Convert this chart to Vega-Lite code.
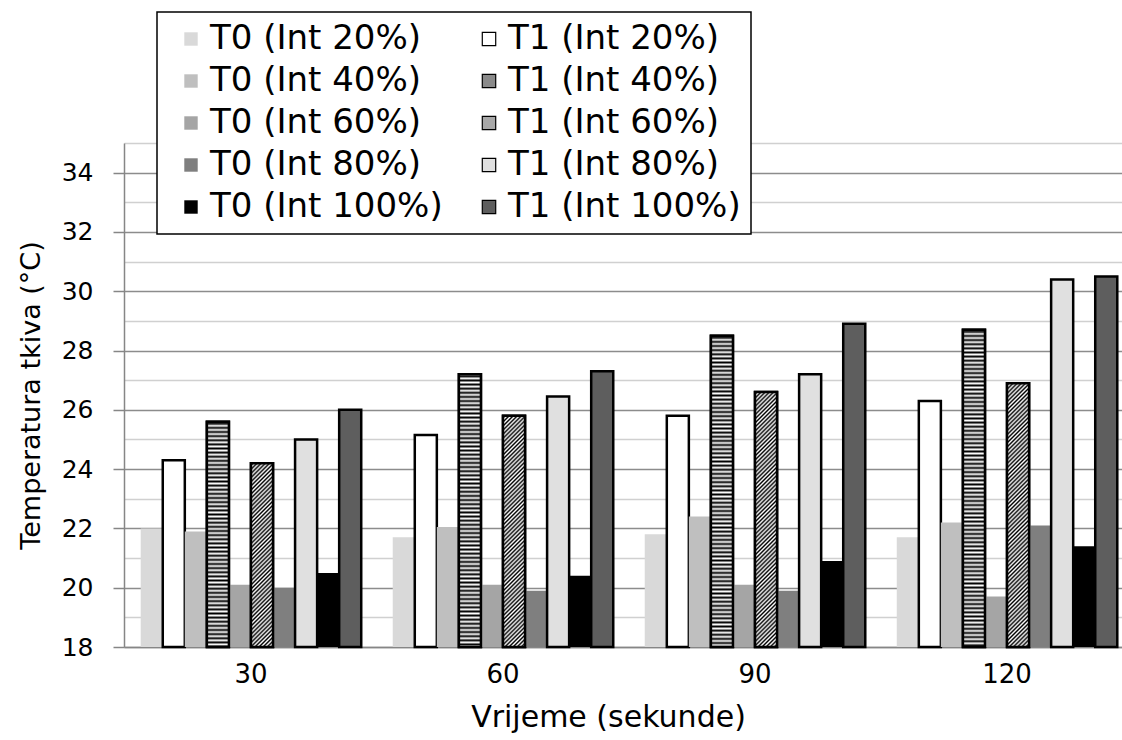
{
  "$schema": "https://vega.github.io/schema/vega-lite/v6.json",
  "autosize": {"type": "none"},
  "width": 998,
  "height": 504,
  "padding": {"left": 124, "top": 143, "right": 0, "bottom": 93},
  "background": "white",
  "config": {"view": {"stroke": null}, "font": "DejaVu Sans"},
  "params": [
    {"name": "stp", "value": [
      {"offset":0,"color":"#fff"},{"offset":0.00625,"color":"#000"},{"offset":0.0125,"color":"#fff"},{"offset":0.01875,"color":"#000"},{"offset":0.025,"color":"#fff"},{"offset":0.03125,"color":"#000"},{"offset":0.0375,"color":"#fff"},{"offset":0.04375,"color":"#000"},{"offset":0.05,"color":"#fff"},{"offset":0.05625,"color":"#000"},{"offset":0.0625,"color":"#fff"},{"offset":0.06875,"color":"#000"},{"offset":0.075,"color":"#fff"},{"offset":0.08125,"color":"#000"},{"offset":0.0875,"color":"#fff"},{"offset":0.09375,"color":"#000"},
      {"offset":0.1,"color":"#fff"},{"offset":0.10625,"color":"#000"},{"offset":0.1125,"color":"#fff"},{"offset":0.11875,"color":"#000"},{"offset":0.125,"color":"#fff"},{"offset":0.13125,"color":"#000"},{"offset":0.1375,"color":"#fff"},{"offset":0.14375,"color":"#000"},{"offset":0.15,"color":"#fff"},{"offset":0.15625,"color":"#000"},{"offset":0.1625,"color":"#fff"},{"offset":0.16875,"color":"#000"},{"offset":0.175,"color":"#fff"},{"offset":0.18125,"color":"#000"},{"offset":0.1875,"color":"#fff"},{"offset":0.19375,"color":"#000"},
      {"offset":0.2,"color":"#fff"},{"offset":0.20625,"color":"#000"},{"offset":0.2125,"color":"#fff"},{"offset":0.21875,"color":"#000"},{"offset":0.225,"color":"#fff"},{"offset":0.23125,"color":"#000"},{"offset":0.2375,"color":"#fff"},{"offset":0.24375,"color":"#000"},{"offset":0.25,"color":"#fff"},{"offset":0.25625,"color":"#000"},{"offset":0.2625,"color":"#fff"},{"offset":0.26875,"color":"#000"},{"offset":0.275,"color":"#fff"},{"offset":0.28125,"color":"#000"},{"offset":0.2875,"color":"#fff"},{"offset":0.29375,"color":"#000"},
      {"offset":0.3,"color":"#fff"},{"offset":0.30625,"color":"#000"},{"offset":0.3125,"color":"#fff"},{"offset":0.31875,"color":"#000"},{"offset":0.325,"color":"#fff"},{"offset":0.33125,"color":"#000"},{"offset":0.3375,"color":"#fff"},{"offset":0.34375,"color":"#000"},{"offset":0.35,"color":"#fff"},{"offset":0.35625,"color":"#000"},{"offset":0.3625,"color":"#fff"},{"offset":0.36875,"color":"#000"},{"offset":0.375,"color":"#fff"},{"offset":0.38125,"color":"#000"},{"offset":0.3875,"color":"#fff"},{"offset":0.39375,"color":"#000"},
      {"offset":0.4,"color":"#fff"},{"offset":0.40625,"color":"#000"},{"offset":0.4125,"color":"#fff"},{"offset":0.41875,"color":"#000"},{"offset":0.425,"color":"#fff"},{"offset":0.43125,"color":"#000"},{"offset":0.4375,"color":"#fff"},{"offset":0.44375,"color":"#000"},{"offset":0.45,"color":"#fff"},{"offset":0.45625,"color":"#000"},{"offset":0.4625,"color":"#fff"},{"offset":0.46875,"color":"#000"},{"offset":0.475,"color":"#fff"},{"offset":0.48125,"color":"#000"},{"offset":0.4875,"color":"#fff"},{"offset":0.49375,"color":"#000"},
      {"offset":0.5,"color":"#fff"},{"offset":0.50625,"color":"#000"},{"offset":0.5125,"color":"#fff"},{"offset":0.51875,"color":"#000"},{"offset":0.525,"color":"#fff"},{"offset":0.53125,"color":"#000"},{"offset":0.5375,"color":"#fff"},{"offset":0.54375,"color":"#000"},{"offset":0.55,"color":"#fff"},{"offset":0.55625,"color":"#000"},{"offset":0.5625,"color":"#fff"},{"offset":0.56875,"color":"#000"},{"offset":0.575,"color":"#fff"},{"offset":0.58125,"color":"#000"},{"offset":0.5875,"color":"#fff"},{"offset":0.59375,"color":"#000"},
      {"offset":0.6,"color":"#fff"},{"offset":0.60625,"color":"#000"},{"offset":0.6125,"color":"#fff"},{"offset":0.61875,"color":"#000"},{"offset":0.625,"color":"#fff"},{"offset":0.63125,"color":"#000"},{"offset":0.6375,"color":"#fff"},{"offset":0.64375,"color":"#000"},{"offset":0.65,"color":"#fff"},{"offset":0.65625,"color":"#000"},{"offset":0.6625,"color":"#fff"},{"offset":0.66875,"color":"#000"},{"offset":0.675,"color":"#fff"},{"offset":0.68125,"color":"#000"},{"offset":0.6875,"color":"#fff"},{"offset":0.69375,"color":"#000"},
      {"offset":0.7,"color":"#fff"},{"offset":0.70625,"color":"#000"},{"offset":0.7125,"color":"#fff"},{"offset":0.71875,"color":"#000"},{"offset":0.725,"color":"#fff"},{"offset":0.73125,"color":"#000"},{"offset":0.7375,"color":"#fff"},{"offset":0.74375,"color":"#000"},{"offset":0.75,"color":"#fff"},{"offset":0.75625,"color":"#000"},{"offset":0.7625,"color":"#fff"},{"offset":0.76875,"color":"#000"},{"offset":0.775,"color":"#fff"},{"offset":0.78125,"color":"#000"},{"offset":0.7875,"color":"#fff"},{"offset":0.79375,"color":"#000"},
      {"offset":0.8,"color":"#fff"},{"offset":0.80625,"color":"#000"},{"offset":0.8125,"color":"#fff"},{"offset":0.81875,"color":"#000"},{"offset":0.825,"color":"#fff"},{"offset":0.83125,"color":"#000"},{"offset":0.8375,"color":"#fff"},{"offset":0.84375,"color":"#000"},{"offset":0.85,"color":"#fff"},{"offset":0.85625,"color":"#000"},{"offset":0.8625,"color":"#fff"},{"offset":0.86875,"color":"#000"},{"offset":0.875,"color":"#fff"},{"offset":0.88125,"color":"#000"},{"offset":0.8875,"color":"#fff"},{"offset":0.89375,"color":"#000"},
      {"offset":0.9,"color":"#fff"},{"offset":0.90625,"color":"#000"},{"offset":0.9125,"color":"#fff"},{"offset":0.91875,"color":"#000"},{"offset":0.925,"color":"#fff"},{"offset":0.93125,"color":"#000"},{"offset":0.9375,"color":"#fff"},{"offset":0.94375,"color":"#000"},{"offset":0.95,"color":"#fff"},{"offset":0.95625,"color":"#000"},{"offset":0.9625,"color":"#fff"},{"offset":0.96875,"color":"#000"},{"offset":0.975,"color":"#fff"},{"offset":0.98125,"color":"#000"},{"offset":0.9875,"color":"#fff"},{"offset":0.99375,"color":"#000"},
      {"offset":1,"color":"#fff"}
    ]}
  ],
  "data": {"values": [
    {"t":"30","s":"T0 (Int 20%)","v":22.0},{"t":"30","s":"T1 (Int 20%)","v":24.3},{"t":"30","s":"T0 (Int 40%)","v":21.9},{"t":"30","s":"T1 (Int 40%)","v":25.6},{"t":"30","s":"T0 (Int 60%)","v":20.1},{"t":"30","s":"T1 (Int 60%)","v":24.2},{"t":"30","s":"T0 (Int 80%)","v":20.0},{"t":"30","s":"T1 (Int 80%)","v":25.0},{"t":"30","s":"T0 (Int 100%)","v":20.5},{"t":"30","s":"T1 (Int 100%)","v":26.0},
    {"t":"60","s":"T0 (Int 20%)","v":21.7},{"t":"60","s":"T1 (Int 20%)","v":25.15},{"t":"60","s":"T0 (Int 40%)","v":22.05},{"t":"60","s":"T1 (Int 40%)","v":27.2},{"t":"60","s":"T0 (Int 60%)","v":20.1},{"t":"60","s":"T1 (Int 60%)","v":25.8},{"t":"60","s":"T0 (Int 80%)","v":19.9},{"t":"60","s":"T1 (Int 80%)","v":26.45},{"t":"60","s":"T0 (Int 100%)","v":20.4},{"t":"60","s":"T1 (Int 100%)","v":27.3},
    {"t":"90","s":"T0 (Int 20%)","v":21.8},{"t":"90","s":"T1 (Int 20%)","v":25.8},{"t":"90","s":"T0 (Int 40%)","v":22.4},{"t":"90","s":"T1 (Int 40%)","v":28.5},{"t":"90","s":"T0 (Int 60%)","v":20.1},{"t":"90","s":"T1 (Int 60%)","v":26.6},{"t":"90","s":"T0 (Int 80%)","v":19.9},{"t":"90","s":"T1 (Int 80%)","v":27.2},{"t":"90","s":"T0 (Int 100%)","v":20.9},{"t":"90","s":"T1 (Int 100%)","v":28.9},
    {"t":"120","s":"T0 (Int 20%)","v":21.7},{"t":"120","s":"T1 (Int 20%)","v":26.3},{"t":"120","s":"T0 (Int 40%)","v":22.2},{"t":"120","s":"T1 (Int 40%)","v":28.7},{"t":"120","s":"T0 (Int 60%)","v":19.7},{"t":"120","s":"T1 (Int 60%)","v":26.9},{"t":"120","s":"T0 (Int 80%)","v":22.1},{"t":"120","s":"T1 (Int 80%)","v":30.4},{"t":"120","s":"T0 (Int 100%)","v":21.4},{"t":"120","s":"T1 (Int 100%)","v":30.5}
  ]},
  "encoding": {
    "x": {
      "field": "t", "type": "ordinal", "sort": ["30", "60", "90", "120"],
      "scale": {"paddingInner": 0.125, "paddingOuter": 0.0425, "align": 0.78},
      "axis": {
        "title": "Vrijeme (sekunde)", "titleFontSize": 30, "titleFontWeight": "normal", "titleColor": "black", "titlePadding": 15, "titleX": 484,
        "labelFontSize": 26, "labelColor": "black", "labelPadding": 14, "labelAngle": 0, "labelDx": 12,
        "ticks": false, "domainColor": "#868686", "domainWidth": 1.5
      }
    },
    "xOffset": {
      "field": "s", "type": "nominal",
      "scale": {"domain": ["T0 (Int 20%)","T1 (Int 20%)","T0 (Int 40%)","T1 (Int 40%)","T0 (Int 60%)","T1 (Int 60%)","T0 (Int 80%)","T1 (Int 80%)","T0 (Int 100%)","T1 (Int 100%)"], "paddingInner": 0, "paddingOuter": 0}
    },
    "y": {
      "field": "v", "type": "quantitative",
      "scale": {"domain": [18, 35], "nice": false, "zero": false},
      "axis": {
        "values": [18,19,20,21,22,23,24,25,26,27,28,29,30,31,32,33,34,35],
        "title": "Temperatura tkiva (°C)", "titleFontSize": 27, "titleFontWeight": "normal", "titleColor": "black", "titlePadding": 16,
        "labelFontSize": 25, "labelColor": "black", "labelPadding": 20, "labelOverlap": false, "labelFlush": false,
        "labelExpr": "datum.value % 2 == 0 ? datum.label : ''",
        "tickSize": 11, "tickColor": "#868686", "tickWidth": 1.5,
        "tickOpacity": {"condition": {"test": "datum.value % 2 == 0", "value": 1}, "value": 0},
        "domainColor": "#868686", "domainWidth": 1.5,
        "gridColor": {"condition": {"test": "datum.value % 2 == 0", "value": "#8c8c8c"}, "value": "#d0d0d0"},
        "gridWidth": 1.5
      }
    },
    "y2": {"datum": 18}
  },
  "layer": [
    {
      "mark": {"type": "bar", "strokeWidth": 2.5},
      "encoding": {
        "fill": {
          "field": "s", "type": "nominal",
          "scale": {
            "domain": ["T0 (Int 20%)","T0 (Int 40%)","T0 (Int 60%)","T0 (Int 80%)","T0 (Int 100%)","T1 (Int 20%)","T1 (Int 40%)","T1 (Int 60%)","T1 (Int 80%)","T1 (Int 100%)"],
            "range": ["#d9d9d9","#bfbfbf","#a5a5a5","#7f7f7f","#000000","#ffffff","#8a8a8a","#a8a8a8","#e0e0e0","#5e5e5e"]
          },
          "legend": {
            "title": null, "orient": "none", "legendX": 33, "legendY": -131, "columns": 2,
            "symbolType": "square", "symbolSize": 180, "symbolStrokeWidth": 1.2, "symbolOffset": 7,
            "labelFontSize": 34, "labelColor": "black", "labelLimit": 0, "labelOffset": 2,
            "rowPadding": 8, "columnPadding": 22, "padding": 10,
            "strokeColor": "black", "fillColor": "white",
            "encode": {"legend": {"update": {"strokeWidth": {"value": 1.5}}}}
          }
        },
        "stroke": {
          "field": "s", "type": "nominal",
          "scale": {
            "domain": ["T0 (Int 20%)","T0 (Int 40%)","T0 (Int 60%)","T0 (Int 80%)","T0 (Int 100%)","T1 (Int 20%)","T1 (Int 40%)","T1 (Int 60%)","T1 (Int 80%)","T1 (Int 100%)"],
            "range": ["transparent","transparent","transparent","transparent","transparent","black","black","black","black","black"]
          }
        }
      }
    },
    {
      "transform": [{"filter": "datum.s == 'T1 (Int 40%)'"}],
      "mark": {"type": "bar", "stroke": "black", "strokeWidth": 2.5,
        "fill": {"expr": "{gradient:'linear',x1:0,y1:0,x2:0,y2:330/max(1,scale('y',18)-scale('y',datum.v)),stops:stp}"}}
    },
    {
      "transform": [{"filter": "datum.s == 'T1 (Int 60%)'"}],
      "mark": {"type": "bar", "stroke": "black", "strokeWidth": 2.5,
        "fill": {"expr": "{gradient:'linear',x1:0,y1:0,x2:330*bandwidth('xOffset')/(pow(bandwidth('xOffset'),2)+pow(scale('y',18)-scale('y',datum.v),2)),y2:330*(scale('y',18)-scale('y',datum.v))/(pow(bandwidth('xOffset'),2)+pow(scale('y',18)-scale('y',datum.v),2)),stops:stp}"}}
    }
  ]
}
